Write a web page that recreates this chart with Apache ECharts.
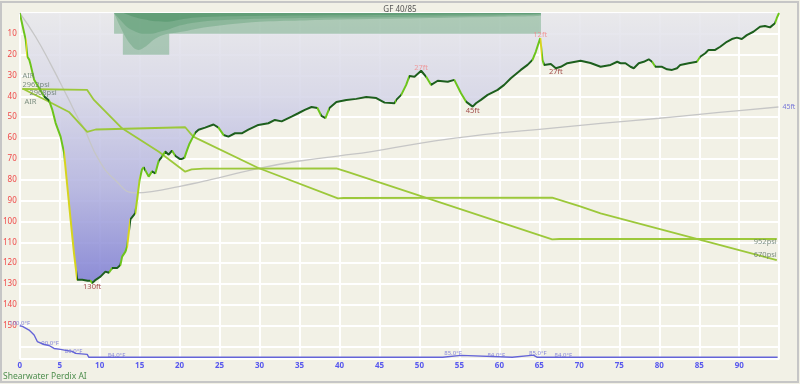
<!DOCTYPE html>
<html><head><meta charset="utf-8">
<script src="https://cdn.jsdelivr.net/npm/echarts@6/dist/echarts.min.js"></script>
<style>html,body{margin:0;padding:0;background:#f2f1e6;} #c{width:800px;height:384px;}</style>
</head><body><div id="c"></div>
<script>
// ---- data (minutes, feet / psi / °F) ----
const profile = [
[0,0],[0.75,12.9],[0.96,21],[1.2,22.5],[1.37,25],[1.8,32],[2.42,36],[3.04,40],[3.67,42],[4.08,46.5],[4.49,52.8],[5.11,59.3],[5.54,67],[5.95,83],[6.36,99],[6.78,115],[7.19,128],[7.82,128],[8.5,128.5],[8.85,128.4],[9.06,129.6],[9.5,128],[10.1,126.5],[10.72,124.1],[11.15,124.6],[11.56,122.4],[12.18,122.4],[12.59,120.9],[12.81,116.9],[13.22,114.5],[13.43,112.1],[13.84,99],[14.26,97],[14.46,96],[14.7,89],[15.0,80],[15.3,75],[15.5,74],[15.71,74],[16.13,78.5],[16.55,76],[16.96,77],[17.38,71],[17.79,69],[18.2,66.5],[18.63,68],[19.04,66],[19.45,68.5],[20.0,70],[20.29,70],[20.6,69.5],[20.91,66],[21.2,63],[21.53,60.5],[21.95,57.5],[22.37,56],[23.19,55],[24.24,53.5],[24.86,55],[25.49,58.5],[26.11,59.3],[26.93,57.7],[27.77,57.7],[28.6,56],[29.85,53.7],[31.1,52.9],[31.92,51.3],[32.76,52],[34.0,49.7],[34.84,48.1],[35.66,46.5],[36.5,45.1],[37.24,45.6],[37.74,49.4],[38.24,50.4],[38.74,45.6],[39.61,42.7],[40.86,41.7],[42.1,41.2],[43.35,40.3],[44.6,40.8],[45.64,43],[46.88,43.3],[47.1,41.7],[47.72,39.3],[48.34,34.5],[48.75,30.2],[49.38,30.6],[50.21,27.7],[50.84,30.6],[51.46,34.5],[52.29,32.5],[53.54,33],[54.36,32.1],[55.2,38.5],[55.82,42.5],[56.66,44.9],[57.07,43.3],[57.69,41.7],[58.53,39.3],[59.78,36.9],[60.6,34.5],[61.43,31.3],[62.68,27.3],[63.52,24.9],[64.14,22.5],[64.55,18.6],[65.11,12],[65.39,22.5],[65.59,24.9],[66.43,24.5],[67.06,26.5],[67.68,25.8],[68.5,24.1],[70.16,22.9],[71.4,24],[72.66,25.8],[73.9,24.9],[74.74,23.4],[75.15,24.1],[75.77,24.1],[76.4,25.8],[76.81,26.5],[77.43,24.1],[78.05,23.4],[78.68,22.2],[79.1,23.4],[79.51,25.8],[80.35,25.8],[80.97,27.0],[81.6,27.3],[82.22,26.5],[82.63,24.9],[83.67,24.1],[84.71,23.4],[85.12,21],[85.75,19.3],[86.16,17.7],[86.99,17.7],[87.62,16.2],[88.45,13.8],[89.08,12.5],[89.7,11.8],[90.32,12.5],[90.95,10.6],[91.77,9.0],[92.6,6.6],[93.22,6.2],[93.85,6.9],[94.47,4.9],[94.69,2.5],[94.98,0]
];
const depthMaxMarks = [[9.06,129.6,'130ft'],[56.66,44.9,'45ft'],[67.06,26.5,'27ft']];
const depthMinMarks = [[50.21,27.7,'27ft'],[65.11,12,'12ft']];
const meanDepth = [[0,0],[2,11.5],[4,25.5],[6,40.5],[7.4,51.3],[8,55],[9.9,70.5],[11.9,80],[14.4,86.3],[16.5,85.7],[19.9,83.3],[22.8,80.9],[25,79],[29.9,74.5],[35,71],[40,68.5],[44,66.5],[50,62.5],[55,59.8],[60,57.5],[65,55.8],[72.7,53],[80,50.5],[85,48.6],[90,46.8],[94.9,45.1]];
const ceilingStep = [[11.8,10],[12.9,10],[12.9,20],[18.7,20],[18.7,10],[65.2,10]];
const tissue1 = [[11.8,0],[12.5,6],[13.3,12],[14.2,16.5],[14.9,17.7],[15.8,16],[16.7,13],[17.4,11.4],[18.5,10],[19.5,9.5],[21,8.5],[23,7],[26,5.5],[30,4.2],[35,3.6],[40,3.1],[50,2.5],[60,1.8],[65.2,1.2],[65.2,0]];
const tissue2 = [[11.8,0],[12.5,3],[13.5,7],[14.5,9],[15.5,10],[16.5,10],[17.5,9],[18.5,8],[20,6],[22,4.5],[25,3.5],[30,2.8],[40,2.2],[50,1.8],[60,1.2],[65.2,0.6],[65.2,0]];
const tissue3 = [[13,0],[14,1.5],[15.5,3],[17,4],[18.5,4.2],[20,3.2],[22,2.2],[26,1.6],[35,1.2],[50,0.8],[65,0.3],[65.2,0]];
const tankA = [[0.34,2962],[8.44,2949],[9.28,2815],[12.8,2435],[17.4,2122],[20.7,1854],[21.5,1885],[23,1895],[39.6,1899],[41,1850],[66.6,948],[67.5,952],[94.7,952]];
const tankB = [[0.34,2968],[1.5,2905],[3.24,2815],[6.16,2654],[8.44,2386],[9.5,2419],[20.7,2449],[21.7,2323],[29.85,1903],[39.8,1497],[40.0,1475],[40.5,1501],[66.6,1505],[70.2,1385],[72.66,1296],[94.7,670]];
const gasName = 'AIR';
const temperature = [[0,100],[0.34,99.7],[1.17,97.8],[1.8,95.3],[2.2,92],[2.4,91],[3.04,90.5],[3.67,90],[4.29,88.5],[5.11,88],[5.74,87.5],[6.57,87],[6.98,86],[8.44,85.5],[8.65,84],[52.9,84],[53.1,85],[55.2,85],[55.4,84],[61.6,84],[61.8,85],[64.0,85],[64.15,84.6],[64.3,85],[64.55,85],[64.75,84],[94.8,84]];
const tempMarks = [[0,100,'100.0°F'],[3.8,90,'90.0°F'],[6.73,86,'86.0°F'],[12.1,84,'84.0°F'],[54.2,85,'85.0°F'],[59.6,84,'84.0°F'],[64.8,85,'85.0°F'],[68,84,'84.0°F']];
const xTicks = [0,5,10,15,20,25,30,35,40,45,50,55,60,65,70,75,80,85,90];
const depthTicks = [10,20,30,40,50,60,70,80,90,100,110,120,130,140,150];
const titleText = 'GF 40/85';
const deviceText = 'Shearwater Perdix AI';

// ---- chart ----
const FONT = 'Noto Sans';
function rateColor(r){
  if (r < 5) return '#1d5f1d';
  if (r < 20) return '#6cc41c';
  if (r < 30) return '#a8d21e';
  return '#d6d41e';
}
const pieces = [];
for (let i = 0; i < profile.length - 1; i++) {
  const [t0,d0] = profile[i], [t1,d1] = profile[i+1];
  const c = rateColor(Math.abs((d1-d0)/(t1-t0)));
  const last = pieces[pieces.length-1];
  if (last && last.color === c) last.lt = t1;
  else pieces.push({gte:t0, lt:t1, color:c});
}
pieces[pieces.length-1].lte = pieces[pieces.length-1].lt + 1;
delete pieces[pieces.length-1].lt;

const chart = echarts.init(document.getElementById('c'));
const lbl = (extra) => Object.assign({show:true, fontFamily:FONT, fontSize:7.5}, extra);
const labelSeries = (data, yIdx, label) => ({
  type:'scatter', yAxisIndex:yIdx, symbolSize:0, data:data, silent:true, z:6,
  label: lbl(Object.assign({formatter: p => p.value[2]}, label))
});
const areaLayer = (data, color) => ({
  type:'line', data:data, symbol:'none', smooth:0.3, lineStyle:{width:0},
  areaStyle:{color:color, opacity:1}, silent:true, z:2
});

const option = {
  backgroundColor:'#f2f1e6',
  animation:false,
  title:{text:titleText, left:'center', top:1, textStyle:{fontSize:8, color:'#555', fontWeight:'normal', fontFamily:FONT}},
  grid:{left:17.3, right:20.8, top:13, bottom:25},
  xAxis:{type:'value', min:0, max:95, interval:5,
    axisLine:{show:false}, axisTick:{show:false},
    axisLabel:{color:'#5858ee', fontSize:8, fontWeight:'bold', fontFamily:FONT, margin:3,
      formatter: v => xTicks.indexOf(v) >= 0 ? String(v) : ''},
    splitLine:{lineStyle:{color:'#ffffff', width:2}}},
  yAxis:[
    {type:'value', inverse:true, min:0, max:166, interval:10,
     axisLine:{show:false}, axisTick:{show:false},
     axisLabel:{color:'#f04848', fontSize:8, fontFamily:FONT, margin:3,
       formatter: v => depthTicks.indexOf(v) >= 0 ? String(v) : ''},
     splitLine:{lineStyle:{color:'#ffffff', width:2}}},
    {type:'value', show:false, min:-656, max:3980},
    {type:'value', show:false, min:83.14, max:258.8}
  ],
  visualMap:{type:'piecewise', show:false, dimension:0, seriesIndex:8, pieces:pieces},
  graphic:[
    {type:'rect', shape:{x:1, y:2, width:797, height:380}, style:{fill:'none', stroke:'#c6c6c6', lineWidth:2}, silent:true},
    {type:'text', left:3, top:372, style:{text:deviceText, fill:'#4e8e4e', fontSize:8.5, fontFamily:FONT}}
  ],
  series:[
    {type:'line', data:profile, symbol:'none', lineStyle:{width:0}, silent:true, z:1,
     areaStyle:{opacity:0.88, color:new echarts.graphic.LinearGradient(0,0,0,1,[
       {offset:0,color:'#e8e8ec'},{offset:0.3,color:'#d6d6e8'},{offset:0.65,color:'#b2b2e0'},{offset:1,color:'#7e7ed4'}])}},
    {type:'line', data:ceilingStep, symbol:'none', lineStyle:{width:0}, silent:true, z:2,
     areaStyle:{color:'rgba(90,160,110,0.42)', opacity:1}},
    areaLayer(tissue1, 'rgba(60,140,90,0.28)'),
    areaLayer(tissue2, 'rgba(60,140,90,0.28)'),
    areaLayer(tissue3, 'rgba(50,130,80,0.3)'),
    {type:'line', data:meanDepth, symbol:'none', smooth:true, z:3,
     lineStyle:{color:'#c6c6c6', width:1.3},
     endLabel:{show:true, distance:4, formatter: p => Math.round(p.value[1]) + 'ft', color:'#7878d8', fontSize:7, fontFamily:FONT}},
    {type:'line', yAxisIndex:1, data:tankA, symbol:'none', z:4, lineStyle:{color:'#9cc83a', width:1.8}},
    {type:'line', yAxisIndex:1, data:tankB, symbol:'none', z:4, lineStyle:{color:'#9cc83a', width:1.8}},
    {type:'line', data:profile, symbol:'none', z:5, lineStyle:{width:2}},
    {type:'line', yAxisIndex:2, data:temperature, symbol:'none', z:4, lineStyle:{color:'#6464d8', width:1.4}},
    labelSeries(depthMaxMarks, 0, {position:'bottom', distance:0, color:'#8a1c1c'}),
    labelSeries(depthMinMarks, 0, {position:'top', distance:-1, color:'#f28888'}),
    labelSeries(tempMarks, 2, {position:'top', distance:-0.5, fontSize:6, color:'#6a6ad8'}),
    {type:'scatter', yAxisIndex:1, symbolSize:0, silent:true, z:6, data:[tankA[0]],
     label:lbl({position:'top', align:'left', distance:0, lineHeight:9, color:'#5f7566',
       formatter: p => gasName + '\n' + p.value[1] + 'psi'})},
    {type:'scatter', yAxisIndex:1, symbolSize:0, silent:true, z:6, data:[tankB[0]],
     label:lbl({position:'bottom', align:'left', distance:0, lineHeight:9, color:'#5f7566',
       formatter: p => '{a|' + p.value[1] + 'psi}\n{b|' + gasName + '}',
       rich:{a:{padding:[0,0,0,7], fontSize:7.5, color:'#5f7566', fontFamily:FONT}, b:{padding:[0,0,0,2], fontSize:7.5, color:'#5f7566', fontFamily:FONT}}})},
    {type:'scatter', yAxisIndex:1, symbolSize:0, silent:true, z:6, data:[tankA[tankA.length-1]],
     label:lbl({position:'left', distance:0, offset:[0,3], color:'#5f7566', formatter: p => p.value[1] + 'psi'})},
    {type:'scatter', yAxisIndex:1, symbolSize:0, silent:true, z:6, data:[tankB[tankB.length-1]],
     label:lbl({position:'left', distance:0, offset:[0,-5], color:'#5f7566', formatter: p => p.value[1] + 'psi'})}
  ]
};
chart.setOption(option);
</script></body></html>
